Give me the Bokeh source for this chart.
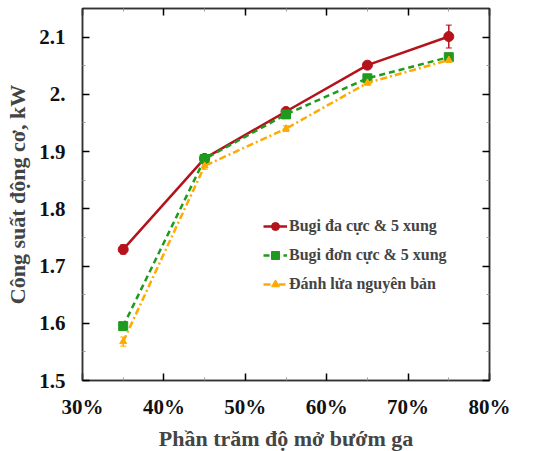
from bokeh.plotting import figure
from bokeh.models import (LinearAxis, FixedTicker, Range1d, Legend, LegendItem, Whisker, ColumnDataSource)
from bokeh.embed import file_html
from bokeh.resources import INLINE

throttle = [35, 45, 55, 65, 75]
red_vals = [1.729, 1.888, 1.970, 2.051, 2.101]
red_err = [0.008, 0.006, 0.005, 0.004, 0.020]
green_vals = [1.595, 1.887, 1.965, 2.028, 2.065]
green_err = [0.005, 0.006, 0.005, 0.004, 0.005]
orange_vals = [1.568, 1.875, 1.940, 2.020, 2.060]
orange_err = [0.008, 0.006, 0.005, 0.004, 0.004]
labels = ["Bugi đa cực & 5 xung", "Bugi đơn cực & 5 xung", "Đánh lửa nguyên bản"]
x_ticks = [30, 40, 50, 60, 70, 80]
x_tick_labels = ["30%", "40%", "50%", "60%", "70%", "80%"]
y_ticks = [1.5, 1.6, 1.7, 1.8, 1.9, 2.0, 2.1]
y_tick_labels = ["1.5", "1.6", "1.7", "1.8", "1.9", "2.", "2.1"]
x_minor = [35, 45, 55, 65, 75]
y_minor = [1.55, 1.65, 1.75, 1.85, 1.95, 2.05]

FONT = "Liberation Serif"
RED, GREEN, ORANGE = "#B5121B", "#1E9A1E", "#FFAA00"

p = figure(frame_width=407, frame_height=372, output_backend="svg", toolbar_location=None,
           x_range=Range1d(30, 80), y_range=Range1d(1.5, 2.15),
           min_border_left=82, min_border_right=30, min_border_top=8, min_border_bottom=10)
p.grid.visible = False
p.outline_line_color = "#333333"
p.outline_line_width = 1.5

def style_axis(ax, ticks, minor, show_labels):
    ax.ticker = FixedTicker(ticks=ticks, minor_ticks=minor)
    ax.major_tick_in = 7
    ax.major_tick_out = 0
    ax.minor_tick_in = 3
    ax.minor_tick_out = 0
    ax.major_tick_line_width = 1.5
    ax.minor_tick_line_color = "#999999"
    ax.axis_line_color = "#333333"
    ax.axis_line_width = 1.5
    ax.major_label_text_font = FONT
    ax.major_label_text_font_style = "bold"
    ax.major_label_text_font_size = "21px"
    ax.major_label_text_color = "#111111"
    if not show_labels:
        ax.major_label_overrides = {t: "" for t in ticks}
        ax.major_label_standoff = 0

xa = p.xaxis[0]
style_axis(xa, x_ticks, x_minor, True)
xa.major_label_overrides = {t: l for t, l in zip(x_ticks, x_tick_labels)}
xa.major_label_standoff = 14
xa.axis_label = "Phần trăm độ mở bướm ga"
xa.axis_label_text_font = FONT
xa.axis_label_text_font_style = "bold"
xa.axis_label_text_font_size = "22px"
xa.axis_label_standoff = 4

ya = p.yaxis[0]
style_axis(ya, y_ticks, y_minor, True)
ya.major_label_overrides = {t: l for t, l in zip(y_ticks, y_tick_labels)}
ya.major_label_standoff = 17
ya.axis_label = "Công suất động cơ, kW"
ya.axis_label_text_font = FONT
ya.axis_label_text_font_style = "bold"
ya.axis_label_text_font_size = "22px"
ya.axis_label_standoff = 6

top = LinearAxis()
style_axis(top, x_ticks, x_minor, False)
p.add_layout(top, "above")
right = LinearAxis()
style_axis(right, y_ticks, y_minor, False)
p.add_layout(right, "right")

items = []
series = [
    (red_vals, red_err, RED, "solid", "circle", 10),
    (green_vals, green_err, GREEN, "6 4", "square", 9),
    (orange_vals, orange_err, ORANGE, "7 3 2 3", "triangle", 7),
]
for (vals, err, col, dash, marker, size), lab in zip(series, labels):
    src = ColumnDataSource(dict(x=throttle, y=vals,
                                lo=[v - e for v, e in zip(vals, err)],
                                hi=[v + e for v, e in zip(vals, err)]))
    w = Whisker(source=src, base="x", lower="lo", upper="hi", line_color=col, line_width=1.5)
    w.upper_head.line_color = col
    w.lower_head.line_color = col
    w.upper_head.size = 6
    w.lower_head.size = 6
    p.add_layout(w)
    ln = p.line("x", "y", source=src, line_color=col, line_width=2.5, line_dash=dash)
    mk = p.scatter("x", "y", source=src, marker=marker, size=size, fill_color=col, line_color=col)
    items.append(LegendItem(label=lab, renderers=[ln, mk]))

legend = Legend(items=items, location=(181, 86), border_line_color=None,
                background_fill_alpha=0, label_text_font=FONT,
                label_text_font_style="bold", label_text_font_size="16px",
                glyph_width=24, spacing=9, label_standoff=2)
p.add_layout(legend, "center")

open("out.html", "w").write(file_html(p, INLINE))
